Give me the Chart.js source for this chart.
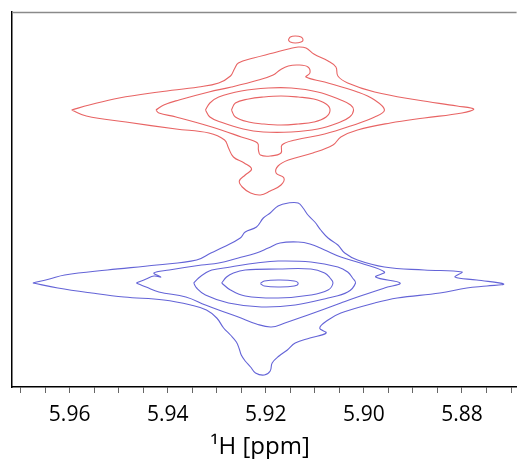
<!DOCTYPE html>
<html>
<head>
<meta charset="utf-8">
<script src="https://cdn.jsdelivr.net/npm/chart.js@4.4.0/dist/chart.umd.min.js"></script>
<style>
  body { margin: 0; background: #fff; }
</style>
</head>
<body>
<canvas id="chart" width="520" height="459"></canvas>
<script>
// contour lines, [1H ppm, F1 (arbitrary rows)]
const redLevel1 = [[5.9596,277],[5.9560,282],[5.9499,289],[5.9418,295],[5.9337,300],[5.9296,304],[5.9272,311],[5.9264,318],[5.9256,324],[5.9225,329],[5.9185,334],[5.9154,338],[5.9134,340],[5.9118,339],[5.9102,333],[5.9073,326],[5.9057,320],[5.9053,311],[5.9033,304],[5.8978,295],[5.8891,287],[5.8810,281],[5.8776,278],[5.8800,274],[5.8877,269],[5.8946,264],[5.9013,257],[5.9047,250],[5.9063,242],[5.9104,234],[5.9154,227],[5.9175,221],[5.9179,214],[5.9163,209],[5.9169,202],[5.9191,196],[5.9211,192],[5.9231,194],[5.9248,200],[5.9254,206],[5.9242,212],[5.9229,218],[5.9244,224],[5.9266,230],[5.9276,239],[5.9284,247],[5.9316,254],[5.9383,258],[5.9485,265],[5.9566,271]];
const redLevel2 = [[5.9424,277],[5.9408,282],[5.9377,287],[5.9316,295],[5.9270,300],[5.9215,307],[5.9185,312],[5.9171,317],[5.9154,321],[5.9134,322],[5.9114,320],[5.9110,314],[5.9118,310],[5.9080,305],[5.9013,295],[5.8978,287],[5.8958,277],[5.8978,270],[5.9027,261],[5.9080,253],[5.9140,247],[5.9167,242],[5.9169,234],[5.9191,231],[5.9211,232],[5.9215,237],[5.9217,244],[5.9250,250],[5.9310,260],[5.9383,270],[5.9418,274]];
const redLevel3 = [[5.9323,277],[5.9314,284],[5.9296,290],[5.9250,296],[5.9195,299],[5.9148,299],[5.9094,295],[5.9047,287],[5.9027,282],[5.9021,277],[5.9029,270],[5.9053,264],[5.9094,258],[5.9148,255],[5.9205,255],[5.9246,258],[5.9292,265],[5.9314,270]];
const redLevel4 = [[5.9270,277],[5.9262,284],[5.9235,288],[5.9205,290],[5.9169,291],[5.9134,290],[5.9102,288],[5.9077,283],[5.9069,277],[5.9077,270],[5.9102,265],[5.9134,263],[5.9169,262],[5.9205,263],[5.9235,265],[5.9262,270]];
const redIsland = [[5.9154,347],[5.9150,350],[5.9140,351],[5.9128,350],[5.9124,347],[5.9128,345],[5.9140,344],[5.9150,345]];

const blueLevel1 = [[5.9675,104],[5.9641,108],[5.9610,112],[5.9523,117],[5.9422,122],[5.9341,127],[5.9312,134],[5.9286,140],[5.9252,149],[5.9242,155],[5.9219,160],[5.9205,169],[5.9191,174],[5.9175,181],[5.9154,184],[5.9134,184],[5.9124,179],[5.9114,172],[5.9100,165],[5.9088,157],[5.9073,149],[5.9053,142],[5.9039,134],[5.9013,127],[5.8958,120],[5.8877,117],[5.8800,115],[5.8814,110],[5.8770,107],[5.8715,103],[5.8749,101],[5.8790,99],[5.8845,94],[5.8932,89],[5.8978,84],[5.9047,74],[5.9073,67],[5.9090,59],[5.9077,54],[5.9110,49],[5.9140,44],[5.9156,37],[5.9173,31],[5.9187,24],[5.9191,16],[5.9203,12],[5.9221,14],[5.9231,20],[5.9242,26],[5.9250,32],[5.9254,38],[5.9260,45],[5.9272,52],[5.9286,59],[5.9300,69],[5.9321,77],[5.9353,82],[5.9408,87],[5.9489,90],[5.9555,94],[5.9624,99]];
const blueLevel2 = [[5.9464,104],[5.9444,108],[5.9428,111],[5.9414,110],[5.9428,114],[5.9397,117],[5.9331,122],[5.9296,124],[5.9256,129],[5.9219,134],[5.9195,139],[5.9171,144],[5.9134,145],[5.9110,143],[5.9080,137],[5.9047,130],[5.9007,124],[5.8958,115],[5.8976,110],[5.8926,104],[5.8958,99],[5.9013,90],[5.9047,84],[5.9080,78],[5.9114,72],[5.9161,64],[5.9189,60],[5.9219,63],[5.9256,70],[5.9296,77],[5.9323,82],[5.9363,90],[5.9418,95],[5.9444,100]];
const blueLevel3 = [[5.9347,104],[5.9337,109],[5.9323,114],[5.9310,117],[5.9272,120],[5.9219,124],[5.9175,126],[5.9108,125],[5.9053,120],[5.9033,115],[5.9023,109],[5.9017,104],[5.9033,95],[5.9073,89],[5.9140,82],[5.9209,80],[5.9276,84],[5.9323,92],[5.9341,99]];
const blueLevel4 = [[5.9290,104],[5.9280,110],[5.9266,114],[5.9242,117],[5.9175,118],[5.9108,118],[5.9080,114],[5.9069,109],[5.9063,104],[5.9073,97],[5.9108,92],[5.9175,89],[5.9242,91],[5.9272,97]];
const blueLevel5 = [[5.9211,103.5],[5.9203,106],[5.9173,107],[5.9142,106],[5.9134,103.5],[5.9142,101],[5.9173,100],[5.9203,101]];

const tickValues = [5.97, 5.965, 5.96, 5.955, 5.95, 5.945, 5.94, 5.935, 5.93, 5.925, 5.92,
                    5.915, 5.91, 5.905, 5.90, 5.895, 5.89, 5.885, 5.88, 5.875, 5.87];
const majorTicks = [5.96, 5.94, 5.92, 5.90, 5.88];
const tickLabels = ['5.96', '5.94', '5.92', '5.90', '5.88'];

const red = 'rgb(232, 100, 100)';
const blue = 'rgb(100, 100, 215)';

function contour(points, color) {
    const data = points.map(p => ({ x: p[0], y: p[1] }));
    data.push({ x: points[0][0], y: points[0][1] });
    return {
        data: data,
        showLine: true,
        borderColor: color,
        borderWidth: 1.1,
        pointRadius: 0,
        tension: 0.4,
        fill: false
    };
}

const topLine = {
    id: 'topLine',
    afterDraw(chart) {
        const { ctx, chartArea } = chart;
        ctx.save();
        ctx.strokeStyle = '#8a8a8a';
        ctx.lineWidth = 1.5;
        ctx.beginPath();
        ctx.moveTo(chartArea.left, chartArea.top + 0.5);
        ctx.lineTo(chartArea.right, chartArea.top + 0.5);
        ctx.stroke();
        ctx.restore();
    }
};

new Chart(document.getElementById('chart'), {
    type: 'scatter',
    data: {
        datasets: [
            contour(redLevel1, red),
            contour(redLevel2, red),
            contour(redLevel3, red),
            contour(redLevel4, red),
            contour(redIsland, red),
            contour(blueLevel1, blue),
            contour(blueLevel2, blue),
            contour(blueLevel3, blue),
            contour(blueLevel4, blue),
            contour(blueLevel5, blue)
        ]
    },
    options: {
        responsive: false,
        animation: false,
        layout: { padding: { top: 12, left: 0, right: 0, bottom: 0 } },
        plugins: {
            legend: { display: false },
            tooltip: { enabled: false },
            title: {
                display: true,
                position: 'bottom',
                text: '\u00B9H [ppm]',
                color: '#000',
                font: { family: 'Open Sans', size: 24, weight: 'normal', lineHeight: 1 },
                padding: { top: 4, bottom: 0 }
            }
        },
        scales: {
            x: {
                type: 'linear',
                reverse: true,
                min: 5.86886,
                max: 5.97175,
                afterBuildTicks: function (scale) {
                    scale.ticks = tickValues.map(v => ({ value: v }));
                },
                afterFit: function (scale) {
                    scale.height = 44;
                },
                grid: {
                    drawOnChartArea: false,
                    drawTicks: true,
                    tickLength: 6,
                    color: '#666'
                },
                border: { display: true, color: '#000', width: 1.5 },
                ticks: {
                    autoSkip: false,
                    maxRotation: 0,
                    padding: 9,
                    color: '#000',
                    font: { family: 'Open Sans', size: 21 },
                    callback: function (value) {
                        const i = majorTicks.findIndex(m => Math.abs(m - value) < 1e-6);
                        return i >= 0 ? tickLabels[i] : '';
                    }
                }
            },
            y: {
                type: 'linear',
                min: 0,
                max: 375,
                afterFit: function (scale) {
                    scale.width = 12;
                },
                grid: { display: false },
                border: { display: true, color: '#000', width: 1.5 },
                ticks: { display: false }
            }
        }
    },
    plugins: [topLine]
});
</script>
</body>
</html>
